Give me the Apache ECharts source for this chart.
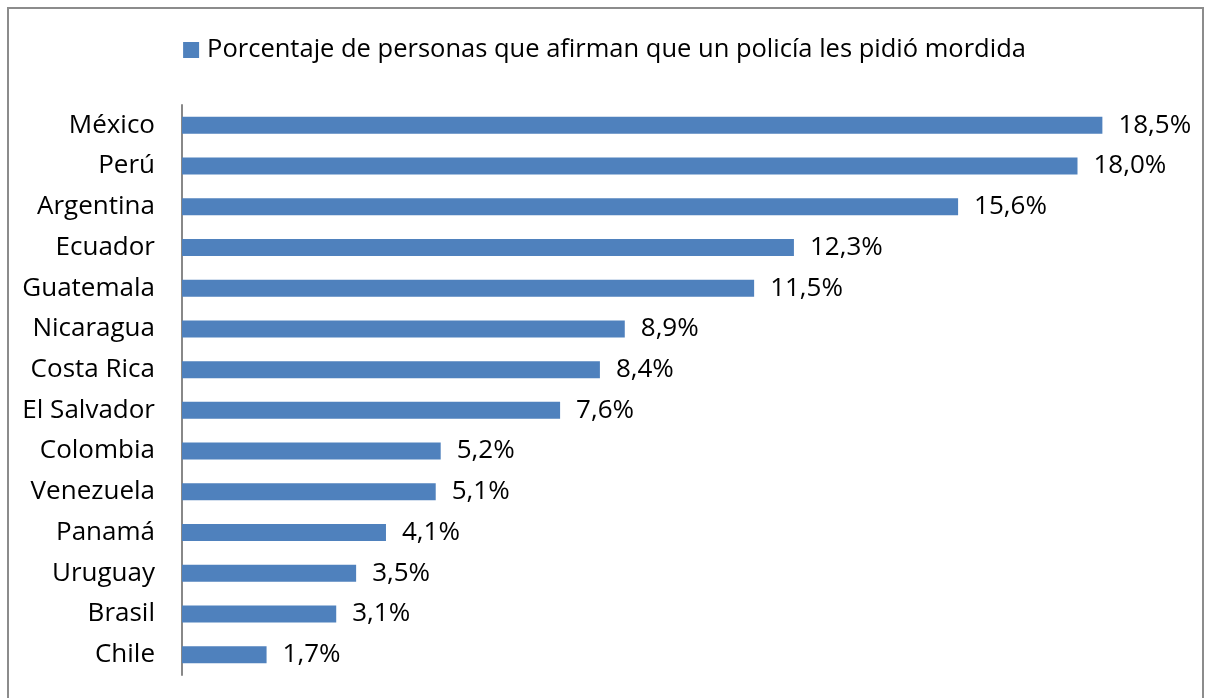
<!DOCTYPE html>
<html>
<head>
<meta charset="utf-8">
<script src="https://cdn.jsdelivr.net/npm/echarts@6/dist/echarts.min.js"></script>
<style>
  html, body { margin: 0; padding: 0; background: #fff; }
  #frame {
    position: absolute; left: 7px; top: 7px; width: 1197px; height: 720px;
    border: 2px solid #8c8c8c; box-sizing: border-box;
  }
  #chart { position: absolute; left: 0; top: 0; width: 1209px; height: 698px; }
</style>
</head>
<body>
<div id="frame"></div>
<div id="chart"></div>
<script>
const countries = ['México', 'Perú', 'Argentina', 'Ecuador', 'Guatemala', 'Nicaragua', 'Costa Rica',
  'El Salvador', 'Colombia', 'Venezuela', 'Panamá', 'Uruguay', 'Brasil', 'Chile']
const percentages = [18.5, 18.0, 15.6, 12.3, 11.5, 8.9, 8.4, 7.6, 5.2, 5.1, 4.1, 3.5, 3.1, 1.7]
const seriesName = 'Porcentaje de personas que afirman que un policía les pidió mordida'

const myChart = echarts.init(document.getElementById('chart'))
const fontFamily = '"Open Sans", sans-serif'

const option = {
  animation: false,
  textStyle: { fontFamily: fontFamily },
  legend: {
    top: 32,
    left: 'center',
    itemWidth: 16,
    itemHeight: 16,
    icon: 'rect',
    textStyle: { fontSize: 25.5, color: '#000', fontFamily: fontFamily, padding: [0, 0, 0, 3] },
    data: [seriesName]
  },
  grid: {
    left: 182,
    right: 32,
    top: 105,
    bottom: 23,
    containLabel: false
  },
  xAxis: {
    type: 'value',
    min: 0,
    max: 20,
    show: false
  },
  yAxis: {
    type: 'category',
    inverse: true,
    data: countries,
    axisLine: { show: true, lineStyle: { color: '#888', width: 2 } },
    axisTick: { show: false },
    axisLabel: { fontSize: 26, color: '#000', margin: 27, fontFamily: fontFamily }
  },
  series: [
    {
      name: seriesName,
      type: 'bar',
      barWidth: 17,
      itemStyle: { color: '#4f81bd' },
      label: {
        show: true,
        position: 'right',
        distance: 16,
        fontSize: 26,
        color: '#000',
        fontFamily: fontFamily,
        formatter: (p) => p.value.toFixed(1).replace('.', ',') + '%'
      },
      data: percentages
    }
  ]
}
myChart.setOption(option)
</script>
</body>
</html>
